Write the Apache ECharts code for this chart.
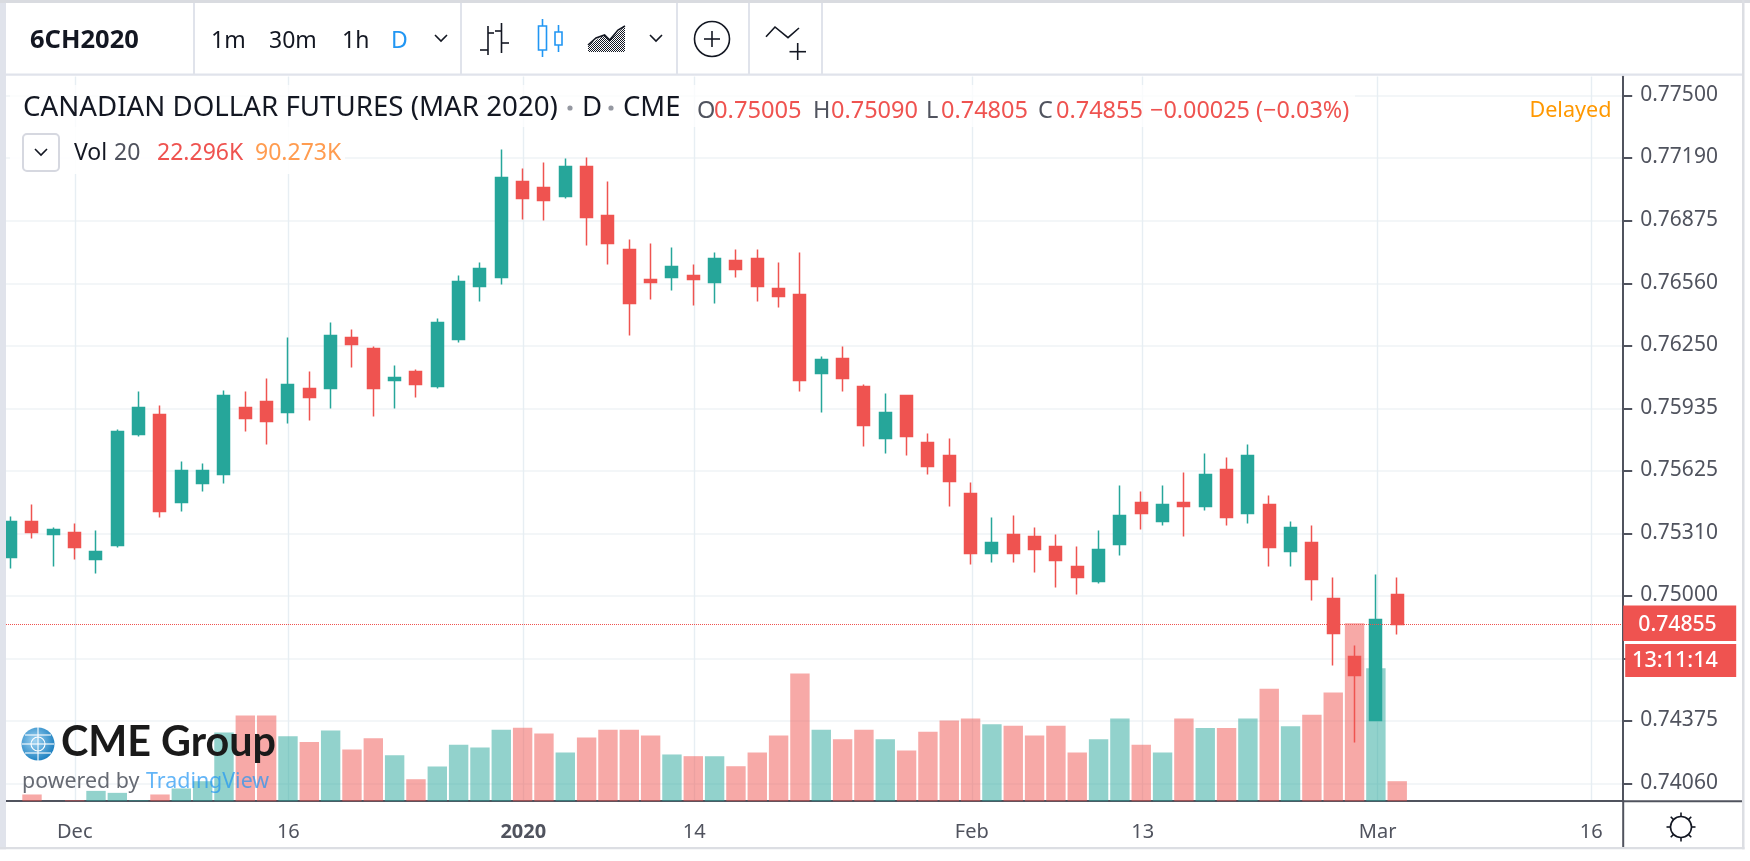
<!DOCTYPE html>
<html>
<head>
<meta charset="utf-8">
<style>html,body{margin:0;padding:0;background:#fff}#c{width:1750px;height:861px}</style>
<script src="https://cdn.jsdelivr.net/npm/echarts@6/dist/echarts.min.js"></script>
</head>
<body>
<div id="c"></div>
<script>
const dates = ['2019-11-27','2019-11-28','2019-11-29','2019-12-02','2019-12-03','2019-12-04','2019-12-05','2019-12-06','2019-12-09','2019-12-10','2019-12-11','2019-12-12','2019-12-13','2019-12-16','2019-12-17','2019-12-18','2019-12-19','2019-12-20','2019-12-23','2019-12-24','2019-12-26','2019-12-27','2019-12-30','2019-12-31','2020-01-02','2020-01-03','2020-01-06','2020-01-07','2020-01-08','2020-01-09','2020-01-10','2020-01-13','2020-01-14','2020-01-15','2020-01-16','2020-01-17','2020-01-21','2020-01-22','2020-01-23','2020-01-24','2020-01-27','2020-01-28','2020-01-29','2020-01-30','2020-01-31','2020-02-03','2020-02-04','2020-02-05','2020-02-06','2020-02-07','2020-02-10','2020-02-11','2020-02-12','2020-02-13','2020-02-14','2020-02-18','2020-02-19','2020-02-20','2020-02-21','2020-02-24','2020-02-25','2020-02-26','2020-02-27','2020-02-28','2020-03-02','2020-03-03','2020-03-04','2020-03-05','2020-03-06','2020-03-09','2020-03-10','2020-03-11','2020-03-12','2020-03-13','2020-03-16','2020-03-17'];
const opens = [0.75190,0.75370,0.75305,0.75315,0.75180,0.75250,0.75805,0.75905,0.75465,0.75560,0.75605,0.75940,0.75970,0.75915,0.76035,0.76035,0.76290,0.76235,0.76075,0.76120,0.76045,0.76280,0.76545,0.76590,0.77070,0.77040,0.76995,0.77145,0.76900,0.76730,0.76580,0.76590,0.76600,0.76565,0.76675,0.76685,0.76535,0.76505,0.76110,0.76185,0.76045,0.75785,0.76000,0.75765,0.75700,0.75510,0.75210,0.75305,0.75295,0.75245,0.75145,0.75070,0.75255,0.75465,0.75370,0.75465,0.75445,0.75630,0.75410,0.75455,0.75220,0.75265,0.74985,0.74695,0.74375,0.75005];
const closes = [0.75370,0.75315,0.75330,0.75240,0.75220,0.75820,0.75940,0.75420,0.75625,0.75625,0.76000,0.75885,0.75870,0.76055,0.75990,0.76300,0.76255,0.76035,0.76090,0.76055,0.76365,0.76570,0.76635,0.77090,0.76985,0.76975,0.77145,0.76890,0.76760,0.76460,0.76565,0.76645,0.76580,0.76685,0.76630,0.76545,0.76495,0.76075,0.76180,0.76085,0.75850,0.75915,0.75795,0.75645,0.75570,0.75210,0.75265,0.75210,0.75230,0.75175,0.75090,0.75230,0.75400,0.75410,0.75455,0.75445,0.75605,0.75390,0.75700,0.75240,0.75340,0.75080,0.74810,0.74600,0.74880,0.74855];
const lows = [0.75135,0.75285,0.75145,0.75180,0.75110,0.75240,0.75795,0.75390,0.75420,0.75520,0.75560,0.75820,0.75755,0.75860,0.75875,0.75935,0.76140,0.75895,0.75935,0.75990,0.76035,0.76265,0.76470,0.76555,0.76880,0.76875,0.76985,0.76750,0.76655,0.76300,0.76480,0.76525,0.76450,0.76460,0.76590,0.76470,0.76440,0.76020,0.75915,0.76020,0.75745,0.75710,0.75700,0.75605,0.75445,0.75155,0.75165,0.75165,0.75115,0.75040,0.75005,0.75060,0.75200,0.75330,0.75350,0.75295,0.75425,0.75350,0.75360,0.75145,0.75145,0.74975,0.74650,0.74265,0.74375,0.74805];
const highs = [0.75395,0.75455,0.75340,0.75360,0.75325,0.75830,0.76020,0.75950,0.75670,0.75660,0.76025,0.76020,0.76085,0.76290,0.76120,0.76365,0.76330,0.76245,0.76150,0.76130,0.76385,0.76600,0.76665,0.77230,0.77135,0.77165,0.77185,0.77190,0.77070,0.76780,0.76760,0.76740,0.76655,0.76715,0.76730,0.76730,0.76665,0.76715,0.76195,0.76245,0.76055,0.76010,0.76000,0.75810,0.75785,0.75565,0.75390,0.75400,0.75340,0.75305,0.75245,0.75325,0.75550,0.75520,0.75550,0.75615,0.75710,0.75690,0.75755,0.75500,0.75370,0.75350,0.75090,0.74750,0.75105,0.75090];
const volumes = [0,7.5,0,1.1,11.5,9.3,1.1,7.5,14.2,22.3,76.6,95.6,95.6,72.5,66.1,78.8,57.6,70.2,51.3,24.5,38.7,62.9,59.9,79.6,81.8,75.5,54.3,71,79.6,79.6,73.3,52.1,50.2,50.2,39,54.3,73.3,142.4,79.6,69.1,79.6,69.1,56.5,77.4,90,92.2,85.9,84.1,73.3,84.1,54.3,69.1,92.2,62.9,54.3,92.2,81.6,81.6,92.2,125.5,83.6,96.3,121.2,198.5,148.3,22.296];
const priceTicks = [0.77500,0.77190,0.76875,0.76560,0.76250,0.75935,0.75625,0.75310,0.75000,0.74685,0.74375,0.74060];
const tickDates = ['2019-12-02','2019-12-16','2020-01-02','2020-01-14','2020-02-03','2020-02-13','2020-03-02','2020-03-16'];
const tickTexts = ['Dec','16','2020','14','Feb','13','Mar','16'];
const lastPrice = 0.74855;

const UP='#26a69a', DOWN='#ef5350', INK='#131722', AXIS='#50535e', CHROME='#e0e3eb', BLUE='#2196f3';
const FONT='"Noto Sans"';
const AX=1623.2, RIGHT=1742, AXY=801.2;
const isTick = (i, v) => tickDates.indexOf(v) >= 0;
const G = [];
const T = (x,y,text,size,fill,extra) => G.push({type:'text',z:100,silent:true,style:Object.assign({x,y,text,font:(extra&&extra.weight?extra.weight+' ':'')+size+'px '+((extra&&extra.family)||FONT),fill,textAlign:(extra&&extra.align)||'left',textVerticalAlign:'middle'},{})});
const L = (x1,y1,x2,y2,stroke,w,z) => G.push({type:'line',z:z||100,silent:true,shape:{x1,y1,x2,y2},style:{stroke,lineWidth:w||1.6}});
const R = (x,y,width,height,fill,opacity,z,stroke,r) => G.push({type:'rect',z:z||100,silent:true,shape:{x,y,width,height,r:r||0},style:{fill,opacity:opacity==null?1:opacity,stroke:stroke||null,lineWidth:stroke?2:0}});
const P = (points,stroke,w,fill) => G.push({type:fill?'polygon':'polyline',z:100,silent:true,shape:{points},style:{stroke:stroke,lineWidth:w||1.6,fill:fill||null}});
const C = (cx,cy,r,stroke,w,fill) => G.push({type:'circle',z:100,silent:true,shape:{cx,cy,r},style:{stroke,lineWidth:w||1.6,fill:fill||null}});

// frame and toolbar
R(0,0,6,861,CHROME);
R(0,0,1750,3,'#d9dbe0');
R(6,3,1744,71,'#ffffff',1,99);
R(RIGHT,3,8,858,'#ffffff',1,99);
R(6,73.5,RIGHT-6,2.2,CHROME);
R(RIGHT,0,2.5,850,'#dcdee3');
R(0,847,RIGHT+2.5,2.5,'#dcdee3');
R(0,849.5,1750,12,'#ffffff');
[194,461,677,749,822].forEach(x=>R(x-1,3,2,71,CHROME));
L(AX,800,AX,847,AXIS,2);
L(AX,AXY,RIGHT,AXY,AXIS,2);

T(30,41,'6CH2020',25.5,INK,{weight:'bold'});
T(211,41,'1m',23,INK); T(269,41,'30m',23,INK); T(342,41,'1h',23,INK); T(391,41,'D',23,BLUE);
const chevron=(cx,cy,col)=>P([[cx-6,cy-3],[cx,cy+3],[cx+6,cy-3]],col||INK,1.6);
chevron(441,38); chevron(656,38);
// bar-style icon
L(488,26,488,55,INK); L(480,50,488,50,INK); L(488,33,494,33,INK);
L(501.5,23,501.5,53,INK); L(495,31,501.5,31,INK); L(501.5,43,509,43,INK);
// candle icon
L(542.5,19,542.5,26,BLUE); L(542.5,50,542.5,57,BLUE); R(538.5,26,8,24,'#fff',1,100,BLUE);
L(558.5,25,558.5,32,BLUE); L(558.5,45,558.5,52,BLUE); R(555,32,7,13,'#fff',1,100,BLUE);
G.forEach(e=>{ if(e.type==='rect'&&e.style.stroke===BLUE){e.style.lineWidth=1.6;} });
// area icon with dithered fill
const dither=document.createElement('canvas');dither.width=dither.height=2;
const dc=dither.getContext('2d');dc.fillStyle='#131722';dc.fillRect(0,0,1,1);dc.fillRect(1,1,1,1);
P([[588,45],[604.6,35],[609.7,40],[625,26],[625,52],[588,52]],null,0,{image:dither,repeat:'repeat'});
P([[588,45],[596,38],[604.6,35],[609.7,40],[618,30],[625,26]],INK,1.6);
// plus circle
C(712,39,17.5,INK,1.6); L(704,39,720,39,INK); L(712,31,712,47,INK);
// alert icon
P([[766,36.7],[775,27],[788,37.7],[799,28]],INK,1.6);
L(789.5,51.7,806,51.7,INK); L(797.7,43,797.7,60,INK);

// legend backgrounds
R(10,85,1345,42,'#ffffff',0.75,90);
R(10,127,335,47,'#ffffff',0.9,90);
T(23,108,'CANADIAN DOLLAR FUTURES (MAR 2020)',27.7,INK);
C(570,108,1.8,'#9598a1',0,'#9598a1'); T(582,108,'D',27.6,INK);
C(611,108,1.8,'#9598a1',0,'#9598a1'); T(623,108,'CME',27.4,INK);
T(697,111,'O',23.5,AXIS); T(714,111,'0.75005',23.7,DOWN);
T(813,111,'H',23.5,AXIS); T(831,111,'0.75090',23.5,DOWN);
T(926,111,'L',23.5,AXIS); T(941,111,'0.74805',23.5,DOWN);
T(1038,111,'C',23.5,AXIS); T(1056,111,'0.74855',23.5,DOWN);
T(1150,111,'\u22120.00025 (\u22120.03%)',23.4,DOWN);
T(1611.5,111,'Delayed',21.6,'#ff9800',{align:'right'});
R(23,134,36,37,'#fff',1,100,'#d6d8e0',4);
chevron(41,152,INK);
T(74,153,'Vol',23,INK); T(114,153,'20',23,AXIS);
T(157,153,'22.296K',23,DOWN); T(255,153,'90.273K',23,'#ff9c50');

// logo
G.push({type:'circle',z:100,silent:true,shape:{cx:38,cy:744,r:16.5},style:{fill:{type:'radial',x:0.4,y:0.4,r:0.7,colorStops:[{offset:0,color:'#9fd3f2'},{offset:1,color:'#0f78bc'}]}}});
C(38,744,7,'#fff',1.1); 
L(38,727,38,761,'#fff',1.1); L(22,744,54,744,'#fff',1.1); L(25,735,51,735,'#fff',1.1); L(25,753,51,753,'#fff',1.1);
T(61,743,'CME Group',41.3,'#1a1a1a',{weight:'bold',family:'Lato'});
T(22,782,'powered by',21.4,'#666a73');
T(146,782,'TradingView',21.4,'rgba(33,150,243,0.7)');

// last-price tags
R(AX,605.5,113,35.5,DOWN);
T(1677.5,624.5,lastPrice.toFixed(5),21.2,'#fff',{align:'center',weight:'500'});
R(AX+2,644,111,33,DOWN);
T(1675,661,'13:11:14',21.6,'#fff',{align:'center',weight:'500'});

// theme toggle
C(1681,827,10.5,INK,1.6);
[0,45,90,135,180,225,270,315].forEach(a=>{const r=a*Math.PI/180;L(1681+10.5*Math.cos(r),827+10.5*Math.sin(r),1681+14.5*Math.cos(r),827+14.5*Math.sin(r),INK,1.6);});

const chart = echarts.init(document.getElementById('c'), null, {renderer:'canvas'});
const priceRange = {min:0.739715, max:0.77595};
chart.setOption({
  animation:false,
  backgroundColor:'#ffffff',
  // the visible time scale sits 2px right of the marks, as in the reference
  grid:[
    {left:-8.8,width:1632,top:76.5,height:724.7,containLabel:false},
    {left:-10.8,width:1632,top:76.5,height:724.7,containLabel:false}
  ],
  xAxis:[{
    type:'category',gridIndex:0,data:dates,boundaryGap:true,
    axisLine:{lineStyle:{color:AXIS,width:2}},
    axisTick:{alignWithLabel:true,interval:isTick,length:7,lineStyle:{color:AXIS,width:2}},
    splitLine:{show:true,alignWithLabel:true,interval:isTick,lineStyle:{color:'#e7eef3',width:1.4}},
    axisLabel:{
      interval:isTick,margin:21,fontFamily:FONT,fontSize:20,color:AXIS,hideOverlap:false,
      formatter:v=>{const t=tickTexts[tickDates.indexOf(v)];return t==='2020'?'{b|2020}':t;},
      rich:{b:{fontFamily:FONT,fontSize:20,fontWeight:'bold',color:AXIS}}
    }
  },{
    type:'category',gridIndex:1,data:dates,boundaryGap:true,show:false
  }],
  yAxis:[{
    type:'value',gridIndex:0,position:'right',scale:true,min:priceRange.min,max:priceRange.max,
    axisLine:{show:true,lineStyle:{color:AXIS,width:2}},
    axisTick:{show:true,length:9,customValues:priceTicks,lineStyle:{color:AXIS,width:2}},
    splitLine:{show:true,lineStyle:{color:'#eff3f6',width:1.6}},
    axisLabel:{customValues:priceTicks,margin:17,padding:[2,0,0,0],fontFamily:FONT,fontSize:21,color:AXIS,formatter:v=>v.toFixed(5),showMinLabel:true,showMaxLabel:true}
  },{
    type:'value',gridIndex:1,show:false,min:0,max:808,splitLine:{show:false}
  },{
    type:'value',gridIndex:1,show:false,scale:true,min:priceRange.min,max:priceRange.max,splitLine:{show:false}
  }],
  series:[{
    type:'bar',name:'Vol',xAxisIndex:1,yAxisIndex:1,barWidth:19.4,z:2,
    data:volumes.map((v,i)=>({value:v,itemStyle:{color:closes[i]>=opens[i]?UP:DOWN,opacity:0.5}}))
  },{
    type:'candlestick',name:'6CH2020',xAxisIndex:1,yAxisIndex:2,barWidth:12.5,z:3,
    itemStyle:{color:UP,color0:DOWN,borderColor:UP,borderColor0:DOWN,borderWidth:1.5},
    data:opens.map((o,i)=>[o,closes[i],lows[i],highs[i]]),
    markLine:{silent:true,symbol:'none',precision:5,label:{show:false},lineStyle:{color:DOWN,type:'dotted',width:1},data:[{yAxis:lastPrice}]}
  }],
  graphic:{elements:G}
});
</script>
</body>
</html>
